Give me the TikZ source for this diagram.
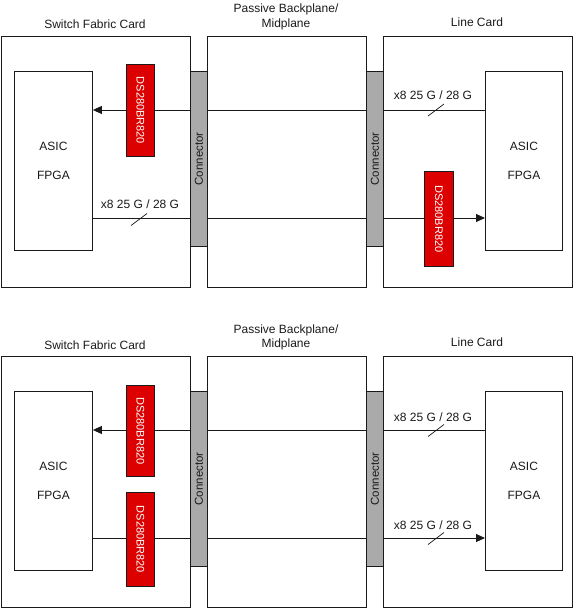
\documentclass[tikz,border=0pt]{standalone}
\usepackage{fontspec}
\setmainfont{Liberation Sans}
\usetikzlibrary{arrows.meta,calc}
\definecolor{chipred}{HTML}{DD0000}
\definecolor{conngray}{HTML}{AAAAAA}
\definecolor{ink}{HTML}{1A1A1A}
\begin{document}
\begin{tikzpicture}[x=1pt,y=-1pt,
  font=\fontsize{12}{14}\selectfont,
  box/.style={draw=ink, line width=0.9pt, fill=white, anchor=north west, inner sep=0pt},
  conn/.style={box, fill=conngray},
  chip/.style={box, fill=chipred},
  lbl/.style={inner sep=0pt, text=ink},
  chiptext/.style={inner sep=0pt, rotate=-90, text=white, font=\fontsize{11}{13}\selectfont},
  conntext/.style={lbl, rotate=90, font=\fontsize{11.5}{13}\selectfont},
  title/.style={lbl, anchor=base},
  link/.style={draw=ink, line width=0.9pt},
  arr/.style={link, -{Triangle[length=9pt,width=8pt]}},
  tick/.style={draw=ink, line width=0.7pt}]
\useasboundingbox (0,0) rectangle (573,609);

% ================= TOP PANEL =================
\node[title] (tTsf) at (95,29) {Switch Fabric Card};
\node[title] (tTbp1) at (286,13) {Passive Backplane/};
\node[title] (tTbp2) at (286,27.5) {Midplane};
\node[title] (tTlc) at (477,26.7) {Line Card};

\node[box, minimum width=189pt, minimum height=251pt] (tSF) at (1,36) {};
\node[box, minimum width=159pt, minimum height=251pt] (tBP) at (207,36) {};
\node[box, minimum width=189pt, minimum height=251pt] (tLC) at (383,36) {};
\node[box, minimum width=78pt, minimum height=179pt] (tAL) at (14,71) {};
\node[box, minimum width=77pt, minimum height=179pt] (tAR) at (485,71) {};
\node[lbl] (tALa) at ($(tAL.center)+(0,-15)$) {ASIC};
\node[lbl] (tALf) at ($(tAL.center)+(0,14)$) {FPGA};
\node[lbl] (tARa) at ($(tAR.center)+(0,-15)$) {ASIC};
\node[lbl] (tARf) at ($(tAR.center)+(0,14)$) {FPGA};

\coordinate (tY1) at (0,110);
\coordinate (tY2) at (0,218);
\draw[arr] (tAR.west |- tY1) -- (tAL.east |- tY1);
\draw[arr] (tAL.east |- tY2) -- (tAR.west |- tY2);

\node[conn, minimum width=17pt, minimum height=175pt] (tCL) at (190,71) {};
\node[conn, minimum width=17pt, minimum height=175pt] (tCR) at (366,71) {};
\node[conntext] (tCLt) at (tCL.center) {Connector};
\node[conntext] (tCRt) at (tCR.center) {Connector};

\node[chip, minimum width=28pt, minimum height=92pt] (tDL) at (126,64) {};
\node[chip, minimum width=29pt, minimum height=95pt] (tDR) at (424,171) {};
\node[chiptext] (tDLt) at (tDL.center) {DS280BR820};
\node[chiptext] (tDRt) at (tDR.center) {DS280BR820};

\node[title] (tL1) at (433,100) {x8 25 G / 28 G};
\draw[tick] (428,116) -- (444,104);
\node[title] (tL2) at (140,209) {x8 25 G / 28 G};
\draw[tick] (131,225.5) -- (147,213.5);

% ================= BOTTOM PANEL =================
\begin{scope}[shift={(0,320)}]
\node[title] (bTsf) at (95,29) {Switch Fabric Card};
\node[title] (bTbp1) at (286,13) {Passive Backplane/};
\node[title] (bTbp2) at (286,27.5) {Midplane};
\node[title] (bTlc) at (477,26.7) {Line Card};

\node[box, minimum width=189pt, minimum height=251pt] (bSF) at (1,36) {};
\node[box, minimum width=159pt, minimum height=251pt] (bBP) at (207,36) {};
\node[box, minimum width=189pt, minimum height=251pt] (bLC) at (383,36) {};
\node[box, minimum width=78pt, minimum height=179pt] (bAL) at (14,71) {};
\node[box, minimum width=77pt, minimum height=179pt] (bAR) at (485,71) {};
\node[lbl] (bALa) at ($(bAL.center)+(0,-15)$) {ASIC};
\node[lbl] (bALf) at ($(bAL.center)+(0,14)$) {FPGA};
\node[lbl] (bARa) at ($(bAR.center)+(0,-15)$) {ASIC};
\node[lbl] (bARf) at ($(bAR.center)+(0,14)$) {FPGA};

\coordinate (bY1) at (0,110);
\coordinate (bY2) at (0,218);
\draw[arr] (bAR.west |- bY1) -- (bAL.east |- bY1);
\draw[arr] (bAL.east |- bY2) -- (bAR.west |- bY2);

\node[conn, minimum width=17pt, minimum height=175pt] (bCL) at (190,71) {};
\node[conn, minimum width=17pt, minimum height=175pt] (bCR) at (366,71) {};
\node[conntext] (bCLt) at (bCL.center) {Connector};
\node[conntext] (bCRt) at (bCR.center) {Connector};

\node[chip, minimum width=28pt, minimum height=91pt] (bDL1) at (126,65) {};
\node[chip, minimum width=28pt, minimum height=94pt] (bDL2) at (126,172) {};
\node[chiptext] (bDL1t) at (bDL1.center) {DS280BR820};
\node[chiptext] (bDL2t) at (bDL2.center) {DS280BR820};

\node[title] (bL1) at (433,101.5) {x8 25 G / 28 G};
\draw[tick] (428,116.5) -- (444,104.5);
\node[title] (bL2) at (433,209) {x8 25 G / 28 G};
\draw[tick] (428,224.5) -- (444,212.5);
\end{scope}
\end{tikzpicture}
\end{document}
